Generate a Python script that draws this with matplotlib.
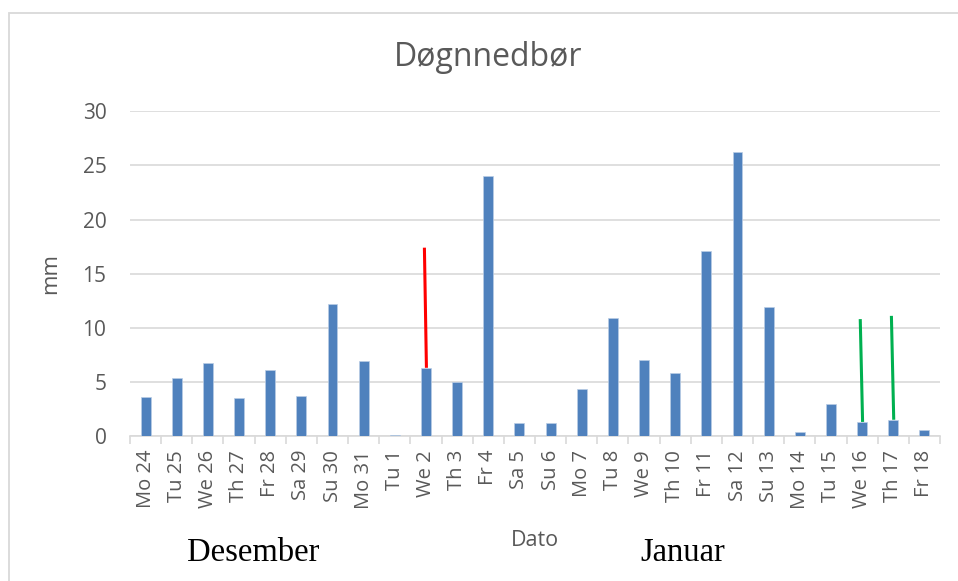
import matplotlib
matplotlib.use("Agg")
import matplotlib.pyplot as plt
from matplotlib.patches import Rectangle

# ---- data ----
days = ["Mo 24", "Tu 25", "We 26", "Th 27", "Fr 28", "Sa 29", "Su 30", "Mo 31",
        "Tu 1", "We 2", "Th 3", "Fr 4", "Sa 5", "Su 6", "Mo 7", "Tu 8", "We 9",
        "Th 10", "Fr 11", "Sa 12", "Su 13", "Mo 14", "Tu 15", "We 16", "Th 17", "Fr 18"]
precip = [3.6, 5.4, 6.7, 3.5, 6.1, 3.7, 12.2, 6.9, 0.1, 6.3, 5.0, 24.0, 1.2, 1.2,
          4.3, 10.9, 7.0, 5.8, 17.1, 26.2, 11.9, 0.4, 3.0, 1.3, 1.5, 0.6]
red_marks = ["We 2"]
red_tops = [17.4]
green_marks = ["We 16", "Th 17"]
green_tops = [10.8, 11.1]
yticks = [0, 5, 10, 15, 20, 25, 30]

W, H = 958, 581
fig = plt.figure(figsize=(W / 100, H / 100), dpi=100)
fig.patch.set_facecolor("white")

# chart frame
fig.patches.append(Rectangle((9 / W, -0.1), 1.2, 1 - 13 / H + 0.1, transform=fig.transFigure,
                             fill=False, edgecolor="#D9D9D9", linewidth=1.3, zorder=0))

left, right = 130 / W, 940 / W
bottom, top = 1 - 436 / H, 1 - 111.3 / H
ax = fig.add_axes([left, bottom, right - left, top - bottom])

x = list(range(len(days)))
ax.bar(x, precip, width=0.32, color="#4F81BD", edgecolor="#B9CDE5", linewidth=0.5, zorder=3)

grey = "#595959"
ax.set_xlim(-0.5, len(days) - 0.5)
ax.set_ylim(0, 30)
ax.set_yticks(yticks)
ax.set_yticklabels([str(v) for v in yticks])
ax.set_xticks(x)
ax.set_xticklabels(days, rotation=90)
ax.set_xticks([i - 0.5 for i in range(len(days) + 1)], minor=True)

font = "Open Sans"
for lab in ax.get_yticklabels():
    lab.set_fontfamily(font)
    lab.set_fontsize(15)
    lab.set_color(grey)
for lab in ax.get_xticklabels():
    lab.set_fontfamily(font)
    lab.set_fontsize(14.5)
    lab.set_color(grey)

ax.tick_params(axis="x", which="major", length=0, pad=10)
ax.tick_params(axis="x", which="minor", length=6, color="#D9D9D9", width=1.2)
ax.tick_params(axis="y", length=0, pad=17)

for s in ["top", "right", "left"]:
    ax.spines[s].set_visible(False)
ax.spines["bottom"].set_color("#D9D9D9")
ax.spines["bottom"].set_linewidth(1.2)
ax.grid(axis="y", color="#D9D9D9", linewidth=1.2, zorder=0)
ax.set_axisbelow(True)

# annotation lines
for name, t in zip(red_marks, red_tops):
    i = days.index(name)
    ax.plot([i - 0.05, i + 0.015], [t, precip[i]], color="#FF0000", linewidth=2.2, zorder=4,
            solid_capstyle="butt")
for name, t in zip(green_marks, green_tops):
    i = days.index(name)
    ax.plot([i - 0.06, i + 0.015], [t, precip[i]], color="#00B050", linewidth=2.2, zorder=4,
            solid_capstyle="butt")

ax.set_ylabel("mm", fontfamily=font, fontsize=16, color=grey)
ax.yaxis.set_label_coords(-(130 - 61) / (940 - 130), 0.5)

fig.text(488 / W, 1 - 58 / H, "Døgnnedbør", ha="center", va="center",
         fontfamily=font, fontsize=23, color=grey)
fig.text(535 / W, 1 - 540 / H, "Dato", ha="center", va="center",
         fontfamily=font, fontsize=15.5, color=grey)
fig.text(253 / W, 1 - 553 / H, "Desember", ha="center", va="center",
         fontfamily="Liberation Serif", fontsize=23.5, color="black")
fig.text(683 / W, 1 - 553 / H, "Januar", ha="center", va="center",
         fontfamily="Liberation Serif", fontsize=23.5, color="black")

fig.savefig("out.png", dpi=100)
